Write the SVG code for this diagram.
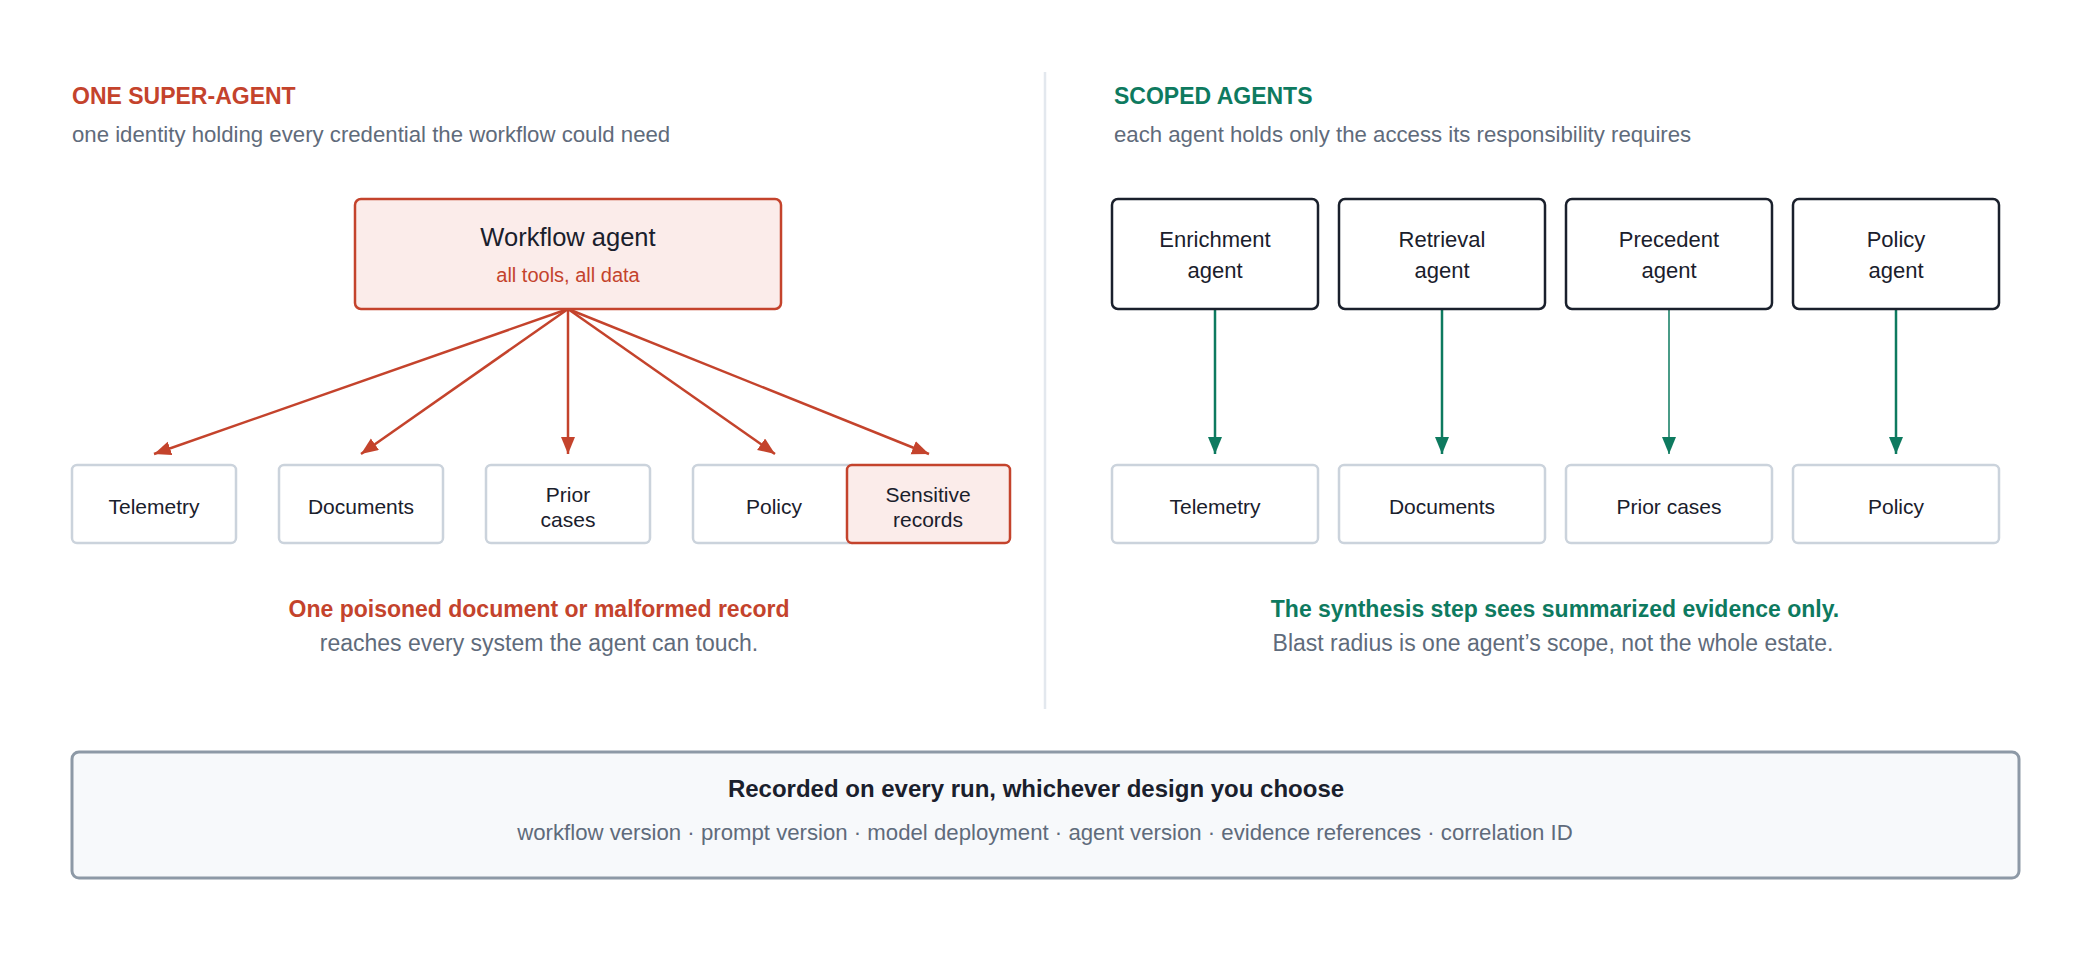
<svg xmlns="http://www.w3.org/2000/svg" width="2092" height="959" viewBox="0 0 2092 959">
<defs>
<style>
text{font-family:"Liberation Sans",Arial,Helvetica,sans-serif}
.hdr{font-size:23px;font-weight:bold}
.sub{font-size:22.2px;fill:#5f6b7b}
.red{fill:#c4432c}
.grn{fill:#0e7a5f}
.cap{font-size:23px;font-weight:bold;text-anchor:middle}
.cap2{font-size:23px;fill:#5f6b7b;text-anchor:middle}
.lbl{font-size:21px;fill:#1a202c;text-anchor:middle}
.albl{font-size:22px;fill:#1a202c;text-anchor:middle}
.store{fill:#ffffff;stroke:#cbd3dc;stroke-width:2.5}
.agent{fill:#ffffff;stroke:#1a202c;stroke-width:2.5}
.hot{fill:#fbecea;stroke:#c4432c;stroke-width:2.5}
.ra{stroke:#c4432c;stroke-width:2.5;fill:none;marker-end:url(#ahR)}
.ga{stroke:#0e7a5f;stroke-width:2.5;fill:none;marker-end:url(#ahG)}
</style>
<marker id="ahR" markerUnits="userSpaceOnUse" markerWidth="18" markerHeight="16" refX="17" refY="7" orient="auto">
<path d="M0,0 L17,7 L0,14 z" fill="#c4432c"/>
</marker>
<marker id="ahG" markerUnits="userSpaceOnUse" markerWidth="18" markerHeight="16" refX="17" refY="7" orient="auto">
<path d="M0,0 L17,7 L0,14 z" fill="#0e7a5f"/>
</marker>
</defs>
<rect x="0" y="0" width="2092" height="959" fill="#ffffff"/>

<!-- divider -->
<line x1="1045" y1="72" x2="1045" y2="709" stroke="#e3e8ee" stroke-width="2.5"/>

<!-- left headings -->
<text class="hdr red" x="72" y="104">ONE SUPER-AGENT</text>
<text class="sub" x="72" y="142">one identity holding every credential the workflow could need</text>

<!-- right headings -->
<text class="hdr grn" x="1114" y="104">SCOPED AGENTS</text>
<text class="sub" x="1114" y="142">each agent holds only the access its responsibility requires</text>

<!-- connectors -->
<g id="connectors">
<line class="ra" x1="568" y1="309" x2="154" y2="454"/>
<line class="ra" x1="568" y1="309" x2="361" y2="454"/>
<line class="ra" x1="568" y1="309" x2="568" y2="454"/>
<line class="ra" x1="568" y1="309" x2="775" y2="454"/>
<line class="ra" x1="568" y1="309" x2="929" y2="454"/>
<line class="ga" x1="1215" y1="309" x2="1215" y2="454"/>
<line class="ga" x1="1442" y1="309" x2="1442" y2="454"/>
<line class="ga" x1="1669" y1="309" x2="1669" y2="454" style="stroke-width:1.5"/>
<line class="ga" x1="1896" y1="309" x2="1896" y2="454"/>
</g>

<!-- left nodes -->
<g id="workflow-agent">
<rect class="hot" x="355" y="199" width="426" height="110" rx="6"/>
<text x="568" y="246" style="font-size:25.5px;fill:#1a202c;text-anchor:middle">Workflow agent</text>
<text class="red" x="568" y="282" style="font-size:20px;text-anchor:middle">all tools, all data</text>
</g>
<g id="l-telemetry">
<rect class="store" x="72" y="465" width="164" height="78" rx="5"/>
<text class="lbl" x="154" y="514">Telemetry</text>
</g>
<g id="l-documents">
<rect class="store" x="279" y="465" width="164" height="78" rx="5"/>
<text class="lbl" x="361" y="514">Documents</text>
</g>
<g id="l-prior">
<rect class="store" x="486" y="465" width="164" height="78" rx="5"/>
<text class="lbl" x="568" y="502">Prior</text>
<text class="lbl" x="568" y="527">cases</text>
</g>
<g id="l-policy">
<rect class="store" x="693" y="465" width="164" height="78" rx="5"/>
<text class="lbl" x="774" y="514">Policy</text>
</g>
<g id="l-sensitive">
<rect class="hot" x="847" y="465" width="163" height="78" rx="5"/>
<text class="lbl" x="928" y="502">Sensitive</text>
<text class="lbl" x="928" y="527">records</text>
</g>

<!-- left caption -->
<text class="cap red" x="539" y="617">One poisoned document or malformed record</text>
<text class="cap2" x="539" y="651">reaches every system the agent can touch.</text>

<!-- right agents -->
<g id="a-enrichment">
<rect class="agent" x="1112" y="199" width="206" height="110" rx="6"/>
<text class="albl" x="1215" y="247">Enrichment</text>
<text class="albl" x="1215" y="278">agent</text>
</g>
<g id="a-retrieval">
<rect class="agent" x="1339" y="199" width="206" height="110" rx="6"/>
<text class="albl" x="1442" y="247">Retrieval</text>
<text class="albl" x="1442" y="278">agent</text>
</g>
<g id="a-precedent">
<rect class="agent" x="1566" y="199" width="206" height="110" rx="6"/>
<text class="albl" x="1669" y="247">Precedent</text>
<text class="albl" x="1669" y="278">agent</text>
</g>
<g id="a-policy">
<rect class="agent" x="1793" y="199" width="206" height="110" rx="6"/>
<text class="albl" x="1896" y="247">Policy</text>
<text class="albl" x="1896" y="278">agent</text>
</g>

<!-- right stores -->
<g id="r-telemetry">
<rect class="store" x="1112" y="465" width="206" height="78" rx="5"/>
<text class="lbl" x="1215" y="514">Telemetry</text>
</g>
<g id="r-documents">
<rect class="store" x="1339" y="465" width="206" height="78" rx="5"/>
<text class="lbl" x="1442" y="514">Documents</text>
</g>
<g id="r-prior">
<rect class="store" x="1566" y="465" width="206" height="78" rx="5"/>
<text class="lbl" x="1669" y="514">Prior cases</text>
</g>
<g id="r-policy">
<rect class="store" x="1793" y="465" width="206" height="78" rx="5"/>
<text class="lbl" x="1896" y="514">Policy</text>
</g>

<!-- right caption -->
<text class="cap grn" x="1555" y="617">The synthesis step sees summarized evidence only.</text>
<text class="cap2" x="1553" y="651">Blast radius is one agent’s scope, not the whole estate.</text>

<!-- bottom record box -->
<g id="record-box">
<rect x="72" y="752" width="1947" height="126" rx="7" fill="#f7f9fb" stroke="#8d99a6" stroke-width="3"/>
<text x="1036" y="797" style="font-size:24px;font-weight:bold;fill:#1a202c;text-anchor:middle">Recorded on every run, whichever design you choose</text>
<text x="1045" y="840" style="font-size:22.2px;fill:#5f6b7b;text-anchor:middle">workflow version · prompt version · model deployment · agent version · evidence references · correlation ID</text>
</g>
</svg>
